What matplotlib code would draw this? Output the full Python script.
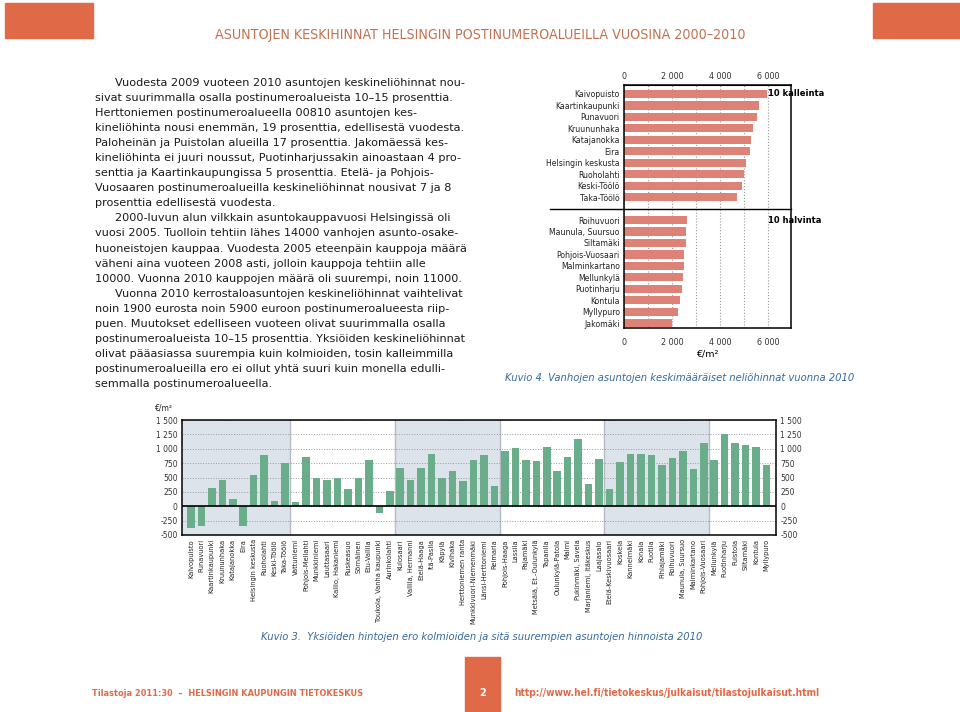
import matplotlib
matplotlib.use("Agg")
import matplotlib.pyplot as plt
from matplotlib.patches import Rectangle
from matplotlib.ticker import FuncFormatter

W, H = 960, 712

# Kuvio 4: kalleimmat ja halvimmat alueet (euroa / m2)
kalleimmat = ["Kaivopuisto", "Kaartinkaupunki", "Punavuori", "Kruununhaka", "Katajanokka",
              "Eira", "Helsingin keskusta", "Ruoholahti", "Keski-Töölö", "Taka-Töölö"]
kalleimmat_hinta = [5950, 5620, 5550, 5380, 5285, 5270, 5075, 4990, 4920, 4700]
halvimmat = ["Roihuvuori", "Maunula, Suursuo", "Siltamäki", "Pohjois-Vuosaari", "Malminkartano",
             "Mellunkylä", "Puotinharju", "Kontula", "Myllypuro", "Jakomäki"]
halvimmat_hinta = [2605, 2600, 2565, 2510, 2480, 2440, 2410, 2340, 2270, 2005]

# Kuvio 3: yksiöiden ja kolmioiden hintaero (euroa / m2)
alueet = ["Kaivopuisto", "Punavuori", "Kaartinkaupunki", "Kruununhaka", "Katajanokka", "Eira",
          "Helsingin keskusta", "Ruoholahti", "Keski-Töölö", "Taka-Töölö", "Vattuniemi",
          "Pohjois-Meilahti", "Munkkiniemi", "Lauttasaari", "Kallio, Hakaniemi", "Ruskeasuo",
          "Sörnäinen", "Etu-Vallila", "Toukola, Vanha kaupunki", "Aurinkolahti", "Kulosaari",
          "Vallila, Hermanni", "Etelä-Haaga", "Itä-Pasila", "Käpylä", "Kivihaka",
          "Herttoniemen ranta", "Munkkivuori-Niemenmäki", "Länsi-Herttoniemi", "Reimarla",
          "Pohjois-Haaga", "Lassila", "Pajamäki", "Metsälä, Et.-Oulunkylä", "Tapanila",
          "Oulunkylä-Patola", "Malmi", "Pukinmäki, Savela", "Marjaniemi, Itäkeskus", "Laajasalo",
          "Etelä-Keskivuosaari", "Koskela", "Kannelmäki", "Konala", "Puotila", "Pihlajamäki",
          "Roihuvuori", "Maunula, Suursuo", "Malminkartano", "Pohjois-Vuosaari", "Mellunkylä",
          "Puotinharju", "Puistola", "Siltamäki", "Kontula", "Myllypuro"]
ero = [-370, -350, 315, 450, 125, -350, 550, 900, 100, 750,
       75, 855, 500, 460, 490, 305, 485, 800, -120, 270,
       660, 455, 665, 905, 500, 615, 440, 800, 890, 355,
       965, 1020, 805, 780, 1025, 620, 865, 1170, 380, 815,
       305, 775, 905, 905, 900, 720, 835, 965, 640, 1095,
       805, 1265, 1100, 1065, 1030, 725]

teksti = [
    "Vuodesta 2009 vuoteen 2010 asuntojen keskineliöhinnat nou-",
    "sivat suurimmalla osalla postinumeroalueista 10–15 prosenttia.",
    "Herttoniemen postinumeroalueella 00810 asuntojen kes-",
    "kineliöhinta nousi enemmän, 19 prosenttia, edellisestä vuodesta.",
    "Paloheinän ja Puistolan alueilla 17 prosenttia. Jakomäessä kes-",
    "kineliöhinta ei juuri noussut, Puotinharjussakin ainoastaan 4 pro-",
    "senttia ja Kaartinkaupungissa 5 prosenttia. Etelä- ja Pohjois-",
    "Vuosaaren postinumeroalueilla keskineliöhinnat nousivat 7 ja 8",
    "prosenttia edellisestä vuodesta.",
    "2000-luvun alun vilkkain asuntokauppavuosi Helsingissä oli",
    "vuosi 2005. Tuolloin tehtiin lähes 14000 vanhojen asunto-osake-",
    "huoneistojen kauppaa. Vuodesta 2005 eteenpäin kauppoja määrä",
    "väheni aina vuoteen 2008 asti, jolloin kauppoja tehtiin alle",
    "10000. Vuonna 2010 kauppojen määrä oli suurempi, noin 11000.",
    "Vuonna 2010 kerrostaloasuntojen keskineliöhinnat vaihtelivat",
    "noin 1900 eurosta noin 5900 euroon postinumeroalueesta riip-",
    "puen. Muutokset edelliseen vuoteen olivat suurimmalla osalla",
    "postinumeroalueista 10–15 prosenttia. Yksiöiden keskineliöhinnat",
    "olivat pääasiassa suurempia kuin kolmioiden, tosin kalleimmilla",
    "postinumeroalueilla ero ei ollut yhtä suuri kuin monella edulli-",
    "semmalla postinumeroalueella.",
]
kappaleen_alku = [0, 9, 14]

ORANSSI = "#E06A47"
PUNAINEN = "#DE8278"
VIHREA = "#6AAD8A"
HARMAA = "#DDE3EA"
SININEN = "#35699F"


def fx(x):
    return x / W


def fy(y):
    return 1 - y / H


def axes_px(fig, x0, y0, x1, y1):
    return fig.add_axes([fx(x0), fy(y1), (x1 - x0) / W, (y1 - y0) / H])


tuhannet = FuncFormatter(lambda v, p: f"{int(v):,}".replace(",", " "))

fig = plt.figure(figsize=(W / 100, H / 100), dpi=100)

# otsikko ja koristeet
fig.patches.append(Rectangle((fx(5), fy(38)), 88 / W, 35 / H, transform=fig.transFigure,
                             color=ORANSSI, zorder=0))
fig.patches.append(Rectangle((fx(873), fy(38)), 87 / W, 35 / H, transform=fig.transFigure,
                             color=ORANSSI, zorder=0))
fig.text(fx(480), fy(35), "ASUNTOJEN KESKIHINNAT HELSINGIN POSTINUMEROALUEILLA VUOSINA 2000–2010",
         ha="center", va="center", fontsize=10.2, color="#C2704F", fontstretch="condensed")

# leipäteksti
for i, rivi in enumerate(teksti):
    x = 115 if i in kappaleen_alku else 95
    fig.text(fx(x), fy(83 + i * 15.05), rivi, ha="left", va="center", fontsize=8.1,
             color="#1a1a1a")

# Kuvio 4
ax = axes_px(fig, 624, 85, 791, 328)
pos = list(range(10)) + list(range(11, 21))
ax.barh(pos, kalleimmat_hinta + halvimmat_hinta, height=0.72, color=PUNAINEN, zorder=2)
ax.set_xlim(0, 6960)
ax.set_ylim(20.42, -0.78)
ax.set_xticks([0, 2000, 4000, 6000])
ax.set_xticks(range(1000, 7000, 1000), minor=True)
ax.xaxis.set_major_formatter(tuhannet)
ax.grid(axis="x", which="both", linestyle=":", color="#999999", linewidth=0.8, zorder=0)
ax.tick_params(axis="x", which="both", length=0, labelsize=5.8, pad=7, colors="#333333")
ax.set_yticks(pos, kalleimmat + halvimmat)
ax.tick_params(axis="y", length=0, labelsize=5.6, pad=3, colors="#222222")
ylin = ax.secondary_xaxis("top")
ylin.set_xticks([0, 2000, 4000, 6000])
ylin.xaxis.set_major_formatter(tuhannet)
ylin.tick_params(length=0, labelsize=5.8, pad=3, colors="#333333")
for s in ax.spines.values():
    s.set_linewidth(1.1)
ax.axhline(10, xmin=-(624 - 550) / (791 - 624), xmax=1, color="black", linewidth=1, clip_on=False)
ax.text(6000, 0, "10 kalleinta", fontsize=6, fontweight="bold", va="center", ha="left",
        clip_on=False, zorder=5)
ax.text(6000, 11, "10 halvinta", fontsize=6, fontweight="bold", va="center", ha="left",
        clip_on=False, zorder=5)
ax.set_xlabel("€/m²", fontsize=6.8, labelpad=2)
fig.text(fx(680), fy(378), "Kuvio 4. Vanhojen asuntojen keskimääräiset neliöhinnat vuonna 2010",
         ha="center", va="center", fontsize=7.2, style="italic", color=SININEN)

# Kuvio 3
bx = axes_px(fig, 182, 420, 776, 535)
x = list(range(len(alueet)))
bx.set_xlim(-0.85, len(alueet) - 0.1)
bx.set_ylim(-500, 1500)
for alku in range(0, len(alueet), 20):
    bx.axvspan(alku - 0.5 if alku else -1, alku + 9.5, color=HARMAA, zorder=0, linewidth=0)
for raja in range(10, len(alueet), 10):
    bx.axvline(raja - 0.5, color="#B5BBC4", linewidth=1, zorder=1)
bx.set_yticks(range(-500, 1501, 250))
bx.yaxis.set_major_formatter(tuhannet)
bx.grid(axis="y", linestyle=":", color="#999999", linewidth=0.7, zorder=1)
bx.axhline(0, color="black", linewidth=1.2, zorder=4)
bx.bar(x, ero, width=0.72, color=VIHREA, zorder=3)
bx.set_xticks(x, alueet, rotation=90)
bx.tick_params(axis="x", length=0, labelsize=4.8, pad=3, colors="#222222")
bx.tick_params(axis="y", length=0, labelsize=5.5, pad=3, colors="#333333",
               labelright=True)
for s in bx.spines.values():
    s.set_linewidth(1.1)
fig.text(fx(155), fy(408), "€/m²", ha="left", va="center", fontsize=5.5, color="#222222")
fig.text(fx(482), fy(637),
         "Kuvio 3.  Yksiöiden hintojen ero kolmioiden ja sitä suurempien asuntojen hinnoista 2010",
         ha="center", va="center", fontsize=7.2, style="italic", color=SININEN)

# alatunniste
fig.patches.append(Rectangle((fx(465), 0), 35 / W, 55 / H, transform=fig.transFigure,
                             color=ORANSSI, zorder=0))
fig.text(fx(482.5), fy(693), "2", ha="center", va="center", fontsize=7, fontweight="bold",
         color="white")
fig.text(fx(92), fy(693), "Tilastoja 2011:30  –  HELSINGIN KAUPUNGIN TIETOKESKUS", ha="left",
         va="center", fontsize=6.6, fontweight="bold", color=ORANSSI, fontstretch="condensed")
fig.text(fx(514), fy(693), "http://www.hel.fi/tietokeskus/julkaisut/tilastojulkaisut.html",
         ha="left", va="center", fontsize=7.3, fontweight="bold", color=ORANSSI,
         fontstretch="condensed")

fig.savefig("out.png", dpi=100)
